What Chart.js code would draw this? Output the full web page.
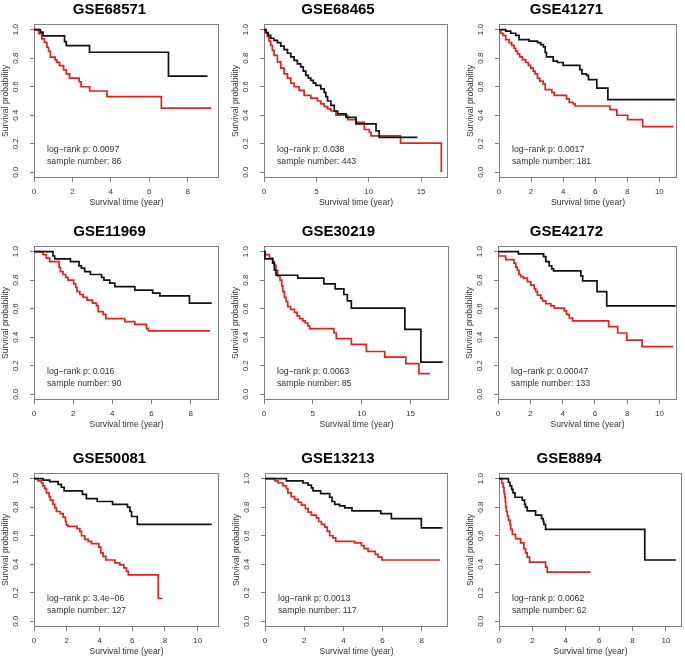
<!DOCTYPE html>
<html>
<head>
<meta charset="utf-8">
<script src="https://cdn.jsdelivr.net/npm/chart.js@4.4.1/dist/chart.umd.min.js"></script>
<style>
  body { margin: 0; background: #fff; width: 685px; height: 661px; overflow: hidden; position: relative; }
  canvas { position: absolute; }
</style>
</head>
<body>
<script>
// Dados dos painéis (tempo em anos, probabilidade de sobrevida)

const titles = ["GSE68571", "GSE68465", "GSE41271", "GSE11969", "GSE30219", "GSE42172", "GSE50081", "GSE13213", "GSE8894"];
const pValues = ["0.0097", "0.038", "0.0017", "0.016", "0.0063", "0.00047", "3.4e\u221206", "0.0013", "0.0062"];
const sampleNumbers = [86, 443, 181, 90, 85, 133, 127, 117, 62];
const xMaxes = [9.63, 17.57, 11.1, 9.45, 18.94, 11.08, 11.3, 9.34, 10.96];
const xSteps = [2, 5, 2, 2, 5, 2, 2, 2, 2];
const yTicks = [0, 0.2, 0.4, 0.6, 0.8, 1.0];

const gse68571Low = [[0,1],[0.33,0.983],[0.47,0.957],[1.59,0.917],[1.68,0.889],[2.89,0.842],[7.0,0.675],[9.03,0.675]];
const gse68571High = [[0,1],[0.24,0.972],[0.41,0.936],[0.54,0.912],[0.67,0.877],[0.76,0.849],[0.85,0.807],[1.1,0.788],[1.19,0.771],[1.33,0.748],[1.54,0.718],[1.68,0.69],[1.85,0.66],[2.35,0.635],[2.45,0.6],[2.9,0.57],[3.8,0.53],[6.63,0.45],[9.23,0.45]];

const gse68465Low = [[0,1],[0.2,0.98],[0.4,0.96],[0.64,0.94],[0.95,0.925],[1.28,0.91],[1.6,0.885],[1.92,0.86],[2.24,0.835],[2.56,0.81],[2.88,0.785],[3.19,0.76],[3.51,0.74],[3.75,0.71],[3.99,0.68],[4.23,0.66],[4.47,0.645],[4.71,0.625],[4.95,0.61],[5.43,0.585],[5.75,0.56],[5.9,0.53],[6.07,0.5],[6.39,0.47],[6.71,0.43],[7.03,0.41],[7.83,0.385],[8.79,0.34],[10.7,0.29],[11.0,0.245],[14.65,0.245]];
const gse68465High = [[0,1],[0.1,0.98],[0.32,0.95],[0.48,0.92],[0.64,0.89],[0.8,0.855],[0.96,0.82],[1.28,0.775],[1.6,0.73],[1.92,0.69],[2.24,0.66],[2.56,0.625],[2.88,0.6],[3.35,0.575],[3.83,0.54],[4.47,0.52],[5.11,0.5],[5.43,0.48],[5.75,0.46],[6.07,0.445],[6.39,0.43],[6.87,0.4],[7.99,0.37],[8.79,0.35],[9.58,0.3],[10.06,0.28],[10.22,0.255],[13.04,0.205],[16.93,0.205],[16.93,0]];

const gse41271Low = [[0,1],[0.42,0.99],[0.73,0.975],[1.04,0.96],[1.25,0.93],[1.88,0.92],[2.4,0.91],[2.6,0.895],[2.77,0.88],[2.88,0.84],[2.96,0.81],[3.38,0.78],[3.65,0.77],[4.0,0.75],[5.04,0.72],[5.17,0.69],[5.46,0.68],[5.58,0.65],[6.1,0.59],[6.79,0.51],[11.0,0.51]];
const gse41271High = [[0,1],[0.02,0.99],[0.1,0.975],[0.25,0.96],[0.42,0.93],[0.63,0.91],[0.79,0.89],[0.94,0.87],[1.04,0.85],[1.15,0.83],[1.29,0.81],[1.46,0.79],[1.67,0.77],[1.83,0.75],[1.98,0.73],[2.13,0.71],[2.25,0.69],[2.4,0.66],[2.54,0.64],[2.75,0.62],[2.88,0.58],[3.29,0.56],[3.44,0.54],[4.21,0.515],[4.38,0.49],[4.63,0.48],[4.75,0.465],[6.92,0.44],[7.35,0.4],[8.02,0.37],[8.96,0.32],[10.88,0.32]];

const gse11969Low = [[0,1],[0.97,0.97],[1.06,0.95],[1.86,0.93],[2.3,0.9],[2.42,0.885],[2.59,0.86],[2.88,0.84],[3.45,0.82],[3.57,0.8],[3.87,0.78],[4.13,0.755],[5.15,0.73],[6.06,0.71],[6.43,0.69],[7.94,0.64],[9.08,0.64]];
const gse11969High = [[0,1],[0.46,0.98],[0.63,0.955],[0.8,0.93],[1.28,0.89],[1.35,0.86],[1.48,0.84],[1.62,0.82],[1.74,0.8],[2.03,0.775],[2.13,0.75],[2.2,0.72],[2.34,0.7],[2.51,0.68],[2.71,0.66],[2.99,0.64],[3.19,0.62],[3.28,0.58],[3.53,0.56],[3.67,0.53],[4.64,0.51],[5.15,0.49],[5.75,0.46],[5.84,0.445],[8.99,0.445]];

const gse30219Low = [[0,1],[0.1,0.95],[0.89,0.92],[1.06,0.87],[1.23,0.835],[3.46,0.815],[6.13,0.775],[7.29,0.74],[8.18,0.7],[8.53,0.655],[8.94,0.605],[14.42,0.455],[16.06,0.225],[18.29,0.225]];
const gse30219High = [[0,1],[0.1,0.98],[0.55,0.955],[0.89,0.93],[1.06,0.905],[1.23,0.87],[1.4,0.83],[1.64,0.8],[1.82,0.76],[1.92,0.72],[2.09,0.68],[2.26,0.65],[2.43,0.615],[2.71,0.595],[3.12,0.575],[3.39,0.55],[3.63,0.53],[3.97,0.515],[4.21,0.5],[4.49,0.48],[4.66,0.46],[7.16,0.43],[7.4,0.39],[8.94,0.35],[10.48,0.3],[12.36,0.26],[14.52,0.215],[15.86,0.145],[16.99,0.145]];

const gse42172Low = [[0,1],[1.26,0.985],[2.82,0.965],[2.96,0.93],[3.17,0.9],[3.33,0.88],[3.44,0.865],[5.13,0.83],[5.24,0.795],[6.13,0.72],[6.73,0.62],[11.0,0.62]];
const gse42172High = [[0,1],[0.02,0.97],[0.48,0.945],[0.99,0.92],[1.1,0.89],[1.2,0.87],[1.3,0.84],[1.41,0.825],[1.57,0.815],[1.82,0.79],[2.03,0.765],[2.24,0.74],[2.34,0.72],[2.44,0.695],[2.65,0.675],[2.75,0.655],[2.96,0.635],[3.27,0.62],[3.48,0.605],[4.1,0.585],[4.24,0.56],[4.41,0.535],[4.62,0.515],[6.85,0.475],[7.41,0.43],[7.97,0.38],[8.92,0.335],[10.83,0.335]];

const gse50081Low = [[0,1],[0.55,0.99],[0.96,0.98],[1.47,0.96],[1.67,0.94],[1.84,0.915],[2.96,0.89],[3.2,0.86],[3.86,0.84],[4.8,0.82],[5.71,0.8],[5.86,0.77],[5.96,0.735],[6.31,0.68],[10.86,0.68]];
const gse50081High = [[0,1],[0.24,0.985],[0.45,0.97],[0.55,0.95],[0.65,0.93],[0.76,0.9],[0.92,0.875],[1.0,0.85],[1.16,0.82],[1.27,0.795],[1.37,0.77],[1.61,0.755],[1.78,0.73],[1.92,0.7],[1.98,0.675],[2.08,0.665],[2.63,0.65],[2.8,0.63],[2.9,0.6],[3.1,0.575],[3.31,0.56],[3.51,0.545],[3.96,0.52],[4.08,0.48],[4.22,0.455],[4.39,0.43],[4.94,0.41],[5.24,0.395],[5.49,0.375],[5.65,0.35],[5.76,0.325],[7.59,0.16],[7.84,0.16]];

const gse13213Low = [[0,1],[1.09,0.985],[1.94,0.97],[2.2,0.955],[2.37,0.935],[2.45,0.915],[2.84,0.895],[3.3,0.87],[3.42,0.84],[3.56,0.82],[3.81,0.81],[4.07,0.795],[4.44,0.775],[5.91,0.755],[6.45,0.72],[7.98,0.655],[9.06,0.655]];
const gse13213High = [[0,1],[0.49,0.985],[0.66,0.97],[0.92,0.95],[1.09,0.93],[1.17,0.9],[1.34,0.875],[1.51,0.855],[1.69,0.835],[1.86,0.815],[2.06,0.79],[2.2,0.765],[2.37,0.745],[2.62,0.725],[2.74,0.7],[2.88,0.68],[3.05,0.66],[3.18,0.63],[3.3,0.6],[3.47,0.585],[3.61,0.56],[4.58,0.55],[4.92,0.53],[5.06,0.51],[5.26,0.49],[5.63,0.47],[5.77,0.45],[5.97,0.43],[8.94,0.43]];

const gse8894Low = [[0,1],[0.56,0.975],[0.66,0.95],[0.76,0.925],[0.84,0.9],[0.96,0.87],[1.39,0.85],[1.53,0.82],[1.59,0.8],[1.69,0.775],[2.19,0.745],[2.55,0.72],[2.65,0.7],[2.69,0.68],[2.79,0.645],[8.73,0.43],[10.6,0.43]];
const gse8894High = [[0,1],[0.16,0.97],[0.24,0.94],[0.3,0.9],[0.34,0.87],[0.38,0.84],[0.4,0.8],[0.44,0.77],[0.5,0.74],[0.56,0.71],[0.66,0.68],[0.7,0.645],[0.8,0.61],[0.99,0.58],[1.29,0.55],[1.49,0.51],[1.59,0.48],[1.69,0.45],[1.83,0.415],[2.79,0.38],[2.89,0.345],[5.48,0.345]];

const lowCurves = [gse68571Low, gse68465Low, gse41271Low, gse11969Low, gse30219Low, gse42172Low, gse50081Low, gse13213Low, gse8894Low];
const highCurves = [gse68571High, gse68465High, gse41271High, gse11969High, gse30219High, gse42172High, gse50081High, gse13213High, gse8894High];

// Layout da grade (posições em pixels)

const colLeft = [0, 228, 456];
const rowTop = [0, 222, 449];
const boxLeft = [34, 36, 43, 34, 36, 42, 34, 37, 43];
const boxRight = [219, 220, 221, 219, 221, 221, 219, 220, 226];
const canvasW = 229;
const canvasH = 212;

const fontFamily = '"Liberation Sans", Arial, sans-serif';
const axisGray = "#808080";
const textGray = "#333333";

// Moldura do gráfico (box do R)
const framePlugin = {
  id: "frame",
  beforeDatasetsDraw(chart) {
    const { ctx, chartArea } = chart;
    ctx.save();
    ctx.strokeStyle = axisGray;
    ctx.lineWidth = 1;
    ctx.strokeRect(
      Math.round(chartArea.left) + 0.5,
      Math.round(chartArea.top) + 0.5,
      Math.round(chartArea.right - chartArea.left) - 1,
      Math.round(chartArea.bottom - chartArea.top) - 1
    );
    ctx.restore();
  },
};

// Texto do log-rank e número de amostras
const notePlugin = {
  id: "note",
  afterDatasetsDraw(chart, args, opts) {
    const { ctx, chartArea, scales } = chart;
    ctx.save();
    ctx.font = "8.7px " + fontFamily;
    ctx.fillStyle = textGray;
    ctx.textAlign = "left";
    ctx.textBaseline = "middle";
    const x = chartArea.left + 13;
    ctx.fillText("log\u2212rank p: " + opts.p, x, scales.y.getPixelForValue(0.16));
    ctx.fillText("sample number: " + opts.n, x, scales.y.getPixelForValue(0.075));
    ctx.restore();
  },
};

function toPoints(curve) {
  return curve.map(([t, s]) => ({ x: t, y: s }));
}

titles.forEach((title, i) => {
  const col = i % 3;
  const row = Math.floor(i / 3);

  const canvas = document.createElement("canvas");
  canvas.width = canvasW;
  canvas.height = canvasH;
  canvas.style.left = colLeft[col] + "px";
  canvas.style.top = rowTop[row] + "px";
  document.body.appendChild(canvas);

  new Chart(canvas, {
    type: "line",
    data: {
      datasets: [
        {
          label: "low",
          data: toPoints(lowCurves[i]),
          borderColor: "#111111",
          borderWidth: 1.7,
          stepped: true,
          pointRadius: 0,
          fill: false,
        },
        {
          label: "high",
          data: toPoints(highCurves[i]),
          borderColor: "#e8201c",
          borderWidth: 1.7,
          stepped: true,
          pointRadius: 0,
          fill: false,
        },
      ],
    },
    options: {
      responsive: false,
      animation: false,
      events: [],
      layout: {
        padding: { left: 0, right: canvasW - boxRight[i], top: 0, bottom: 0 },
      },
      scales: {
        x: {
          type: "linear",
          min: 0,
          max: xMaxes[i],
          afterFit(scale) {
            scale.height = 34;
          },
          ticks: {
            stepSize: xSteps[i],
            includeBounds: false,
            autoSkip: false,
            maxRotation: 0,
            padding: 5,
            color: textGray,
            font: { family: fontFamily, size: 8 },
            callback: (v) => String(v),
          },
          grid: { drawOnChartArea: false, drawTicks: true, tickLength: 4, color: axisGray },
          border: { display: false },
          title: {
            display: true,
            text: "Survival time (year)",
            color: textGray,
            font: { family: fontFamily, size: 8.6 },
            padding: { top: 0, bottom: 4 },
          },
        },
        y: {
          type: "linear",
          min: -0.04,
          max: 1.04,
          afterFit(scale) {
            scale.width = boxLeft[i];
          },
          afterBuildTicks(scale) {
            scale.ticks = yTicks.map((v) => ({ value: v }));
          },
          ticks: {
            autoSkip: false,
            minRotation: 90,
            maxRotation: 90,
            crossAlign: "center",
            padding: 9,
            color: textGray,
            font: { family: fontFamily, size: 8 },
            callback: (v) => Number(v).toFixed(1),
          },
          grid: { drawOnChartArea: false, drawTicks: true, tickLength: 4, color: axisGray },
          border: { display: false },
          title: {
            display: true,
            text: "Survival probability",
            color: textGray,
            font: { family: fontFamily, size: 8.6 },
            padding: { top: Math.max(0, boxLeft[i] - 34), bottom: 0 },
          },
        },
      },
      plugins: {
        legend: { display: false },
        tooltip: { enabled: false },
        title: {
          display: true,
          text: title,
          color: "#000000",
          font: { family: fontFamily, size: 15, weight: "bold" },
          padding: { top: 1, bottom: 5 },
        },
        note: { p: pValues[i], n: sampleNumbers[i] },
      },
    },
    plugins: [framePlugin, notePlugin],
  });
});
</script>
</body>
</html>
